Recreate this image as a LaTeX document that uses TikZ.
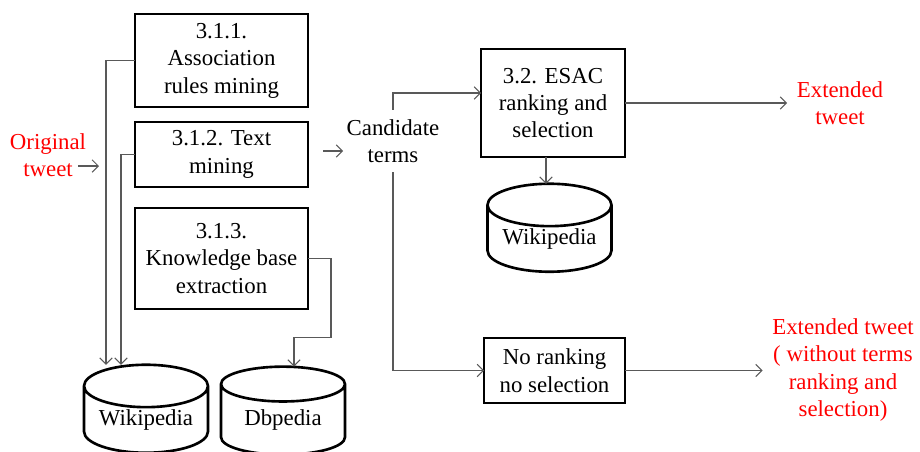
\documentclass[tikz,border=0pt]{standalone}
\usepackage{fontspec}
\setmainfont{Liberation Serif}
\usetikzlibrary{arrows.meta,shapes.geometric}
\begin{document}
\begin{tikzpicture}[x=0.02cm,y=-0.02cm,inner sep=0pt,outer sep=0pt,
font=\fontsize{13}{15.6}\selectfont,
stepbox/.style={draw,rectangle,line width=1.5pt,align=center,minimum width=3.46cm},
dbase/.style={draw,cylinder,shape border rotate=90,shape aspect=0.45,line width=1.5pt,minimum width=2.48cm,minimum height=1.76cm},
lbl/.style={align=center,outer xsep=2pt,outer ysep=5.5pt},
outlbl/.style={align=center,text=red,outer xsep=5.5pt},
link/.style={draw=black!65,line width=0.6pt,-{Straight Barb[length=3.5pt,width=7pt]}}]
\clip (0,0) rectangle (920,451);
\draw (221.5,60.5) node[stepbox,minimum height=1.86cm] (assoc) {3.1.1.\\Association\\rules mining};
\draw (221.5,154.5) node[stepbox,minimum height=1.3cm] (txt) {3.1.2. Text\\mining};
\draw (221.5,258.5) node[stepbox,minimum height=2.02cm] (kb) {3.1.3.\\Knowledge base\\extraction};
\draw (146,420) node[dbase] (wikiA) {Wikipedia};
\draw (283,420) node[dbase] (dbp) {Dbpedia};
\draw (48,155) node[outlbl] (orig) {Original\\tweet};
\draw (393,141) node[lbl] (cand) {Candidate\\terms};
\draw (553,103) node[stepbox,minimum width=2.88cm,minimum height=2.16cm] (esac) {3.2. ESAC\\ranking and\\selection};
\draw (549.5,239) node[dbase] (wikiB) {Wikipedia};
\draw (554.5,370.5) node[stepbox,minimum width=2.82cm,minimum height=1.3cm] (norank) {No ranking\\no selection};
\draw (840,103) node[outlbl] (extA) {Extended\\tweet};
\draw (843,370) node[outlbl] (extB) {Extended tweet\\( without terms\\ranking and\\selection)};
\coordinate (origOut) at (78,166);
\coordinate (origIn) at (99,166);
\coordinate (candIn) at (323,151);
\draw[link] (origOut) -- (origIn);
\draw[link] (assoc.west) -| ([xshift=-0.8cm]wikiA.north);
\draw[link] (txt.west) -| ([xshift=-0.5cm]wikiA.north);
\draw[link] (kb.east) -- ++(23,0) -- ++(0,79) -| ([xshift=0.22cm]dbp.north);
\draw[link] (candIn) -- (cand.west |- candIn);
\draw[link] (cand.north) |- ([yshift=0.2cm]esac.west);
\draw[link] (cand.south) |- (norank.west);
\draw[link] ([xshift=-0.14cm]esac.south) -- ([xshift=-0.14cm]esac.south |- wikiB.north);
\draw[link] (esac.east) -- (esac.east -| extA.west);
\draw[link] (norank.east) -- (norank.east -| extB.west);
\end{tikzpicture}
\end{document}
